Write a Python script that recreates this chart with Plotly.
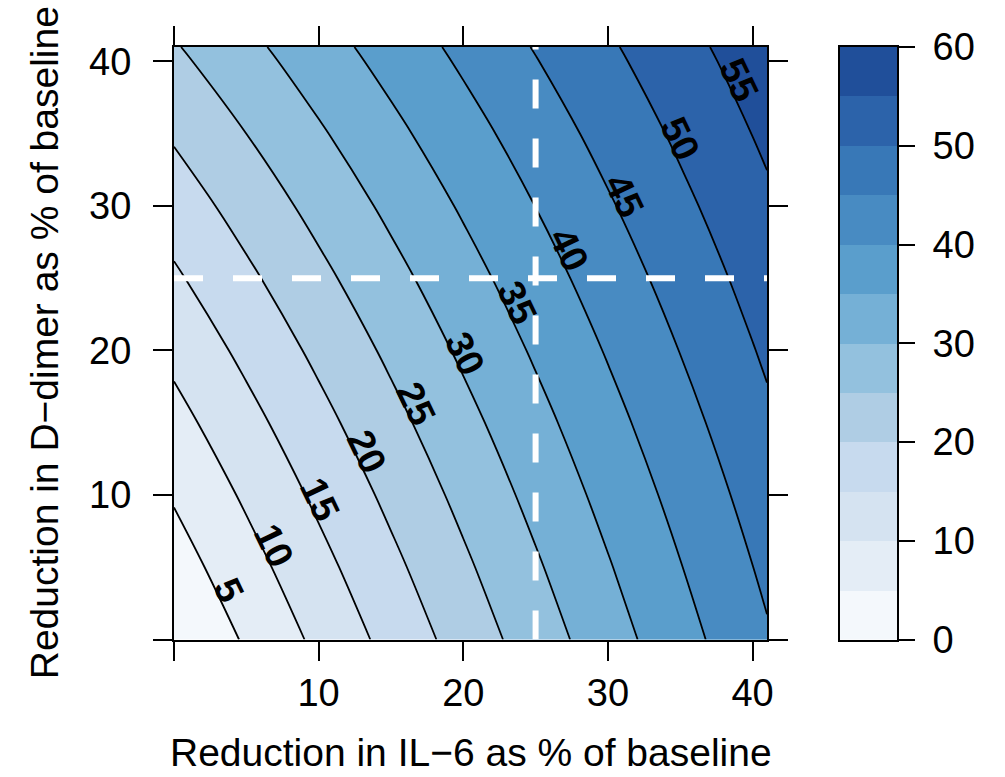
import math
import numpy as np
import plotly.graph_objects as go

# Percentage reduction in IL-6 (x) and in D-dimer (y) relative to baseline
il6_reduction = [0, 5, 10, 15, 20, 25, 30, 35, 40, 41]
ddimer_reduction = [0, 5, 10, 15, 20, 25, 30, 35, 40, 41]

# Predicted reduction in the outcome (%); rows follow ddimer_reduction,
# columns follow il6_reduction
outcome_reduction = [
    [0.00, 5.56, 11.08, 16.57, 22.03, 27.44, 32.81, 38.14, 43.42, 44.47],
    [2.71, 8.12, 13.49, 18.83, 24.14, 29.40, 34.63, 39.82, 44.95, 45.98],
    [5.48, 10.73, 15.96, 21.15, 26.30, 31.42, 36.50, 41.53, 46.52, 47.52],
    [8.33, 13.42, 18.49, 23.52, 28.52, 33.48, 38.41, 43.29, 48.13, 49.10],
    [11.25, 16.19, 21.09, 25.96, 30.80, 35.61, 40.37, 45.10, 49.79, 50.72],
    [14.27, 19.03, 23.77, 28.47, 33.15, 37.79, 42.40, 46.97, 51.49, 52.39],
    [17.37, 21.96, 26.53, 31.07, 35.57, 40.05, 44.49, 48.89, 53.25, 54.12],
    [20.58, 24.998, 29.39, 33.75, 38.08, 42.38, 46.64, 50.87, 55.07, 55.90],
    [23.91, 28.14, 32.35, 36.52, 40.67, 44.79, 48.88, 52.93, 56.95, 57.75],
    [24.59, 28.79, 32.95, 37.09, 41.20, 45.29, 49.34, 53.36, 57.34, 58.13],
]

# Reference scenario marked with dashed lines
ref_il6 = 25
ref_ddimer = 25

# Axis settings
axis_range = [0, 41]
axis_ticks = [0, 10, 20, 30, 40]
axis_ticktext = ["", "10", "20", "30", "40"]

# Contour levels and the colour key
level_start, level_end, level_step = 5, 55, 5
contour_levels = list(range(level_start, level_end + 1, level_step))
key_edges = list(range(0, 65, 5))
key_ticks = [0, 10, 20, 30, 40, 50, 60]
band_colors = [
    "#F4F8FC", "#E4EDF6", "#D5E3F1", "#C7DAEE", "#AFCDE4", "#93C1DE",
    "#75B0D6", "#5A9ECC", "#488BC2", "#3878B7", "#2C63AA", "#204F9A",
]
n_bands = len(band_colors)
colorscale = [[k / (n_bands - 1), c] for k, c in enumerate(band_colors)]

FONT = "Liberation Sans, Arial, Helvetica, sans-serif"
LABEL_SIZE = 38
LABEL_LIFT = 11  # px between a contour line and the centre of its label
W, H = 1005, 777
# plot box in pixels
PL, PR, PT, PB = 174, 767, 47, 639.5
# colour key box in pixels
KL, KR = 840, 897

z = np.array(outcome_reduction, dtype=float)
xs = np.array(il6_reduction, dtype=float)
ys = np.array(ddimer_reduction, dtype=float)


def label_spot(level):
    """Point where a contour level crosses the diagonal, and the text angle there."""
    diag = np.array([z[i, i] for i in range(len(xs))])
    p = float(np.interp(level, diag, xs))
    i = min(int(np.searchsorted(xs, p, side="right")) - 1, len(xs) - 2)
    dx = xs[i + 1] - xs[i]
    dy = ys[i + 1] - ys[i]
    gx = ((z[i, i + 1] - z[i, i]) + (z[i + 1, i + 1] - z[i + 1, i])) / 2 / dx
    gy = ((z[i + 1, i] - z[i, i]) + (z[i + 1, i + 1] - z[i, i + 1])) / 2 / dy
    sx = (PR - PL) / (axis_range[1] - axis_range[0])
    sy = (PB - PT) / (axis_range[1] - axis_range[0])
    angle = math.degrees(math.atan2(gx / sx, gy / sy))
    return p, p, angle


fig = go.Figure()

fig.add_trace(go.Contour(
    x=il6_reduction,
    y=ddimer_reduction,
    z=outcome_reduction,
    colorscale=colorscale,
    showscale=False,
    contours=dict(
        start=level_start, end=level_end, size=level_step,
        coloring="fill", showlabels=False,
    ),
    line=dict(color="black", width=1.8),
    hoverinfo="skip",
))

dash_style = dict(color="white", width=6, dash="29px,30px")
fig.add_trace(go.Scatter(
    x=axis_range, y=[ref_ddimer, ref_ddimer], mode="lines",
    line=dash_style, hoverinfo="skip", showlegend=False,
))
fig.add_trace(go.Scatter(
    x=[ref_il6, ref_il6], y=axis_range, mode="lines",
    line=dash_style, hoverinfo="skip", showlegend=False,
))

# Colour key drawn as a one-column heatmap on its own axes
fig.add_trace(go.Heatmap(
    x=[0, 1], y=key_edges,
    z=[[k] for k in range(n_bands)],
    colorscale=colorscale, zmin=0, zmax=n_bands - 1,
    showscale=False, xaxis="x2", yaxis="y2", hoverinfo="skip",
))

# Contour labels along the diagonal, sitting on their lines
annotations = []
for lev in contour_levels:
    lx, ly, ang = label_spot(lev)
    rad = math.radians(ang)
    annotations.append(dict(
        x=lx, y=ly, xref="x", yref="y", text=str(lev), showarrow=False,
        textangle=ang, xanchor="center", yanchor="middle",
        xshift=LABEL_LIFT * math.sin(rad), yshift=LABEL_LIFT * math.cos(rad),
        font=dict(family=FONT, size=LABEL_SIZE, color="black", weight="bold"),
    ))

annotations += [
    dict(
        text="Reduction in IL\u22126 as % of baseline",
        xref="paper", yref="paper", x=(PL + PR) / 2 / W, y=1 - 752 / H,
        xanchor="center", yanchor="middle", showarrow=False,
        font=dict(family=FONT, size=39, color="black"),
    ),
    dict(
        text="Reduction in D\u2212dimer as % of baseline",
        xref="paper", yref="paper", x=44 / W, y=1 - (PT + PB) / 2 / H,
        xanchor="center", yanchor="middle", showarrow=False, textangle=-90,
        font=dict(family=FONT, size=39, color="black"),
    ),
]

xdom = [PL / W, PR / W]
ydom = [1 - PB / H, 1 - PT / H]
common = dict(
    showgrid=False, zeroline=False, showline=True, linewidth=2,
    linecolor="black", tickcolor="black", tickwidth=2, automargin=False,
)

fig.update_layout(
    width=W, height=H,
    margin=dict(l=0, r=0, t=0, b=0),
    paper_bgcolor="white", plot_bgcolor="white",
    showlegend=False,
    font=dict(family=FONT, size=38, color="black"),
    xaxis=dict(
        domain=xdom, range=axis_range, tickvals=axis_ticks,
        ticktext=axis_ticktext, ticks="outside", ticklen=19,
        mirror="ticks", anchor="y", ticklabelstandoff=0, **common,
    ),
    yaxis=dict(
        domain=ydom, range=axis_range, tickvals=axis_ticks,
        ticktext=axis_ticktext, ticks="outside", ticklen=19,
        mirror="ticks", anchor="x", ticklabelstandoff=14, **common,
    ),
    xaxis2=dict(
        domain=[KL / W, KR / W], range=[0, 1], showticklabels=False,
        ticks="", mirror=True, anchor="y2", **common,
    ),
    yaxis2=dict(
        domain=ydom, range=[key_edges[0], key_edges[-1]], side="right",
        tickvals=key_ticks, ticks="outside", ticklen=16, mirror=True,
        anchor="x2", ticklabelstandoff=10, **common,
    ),
    annotations=annotations,
)

fig.write_html("out.html")
